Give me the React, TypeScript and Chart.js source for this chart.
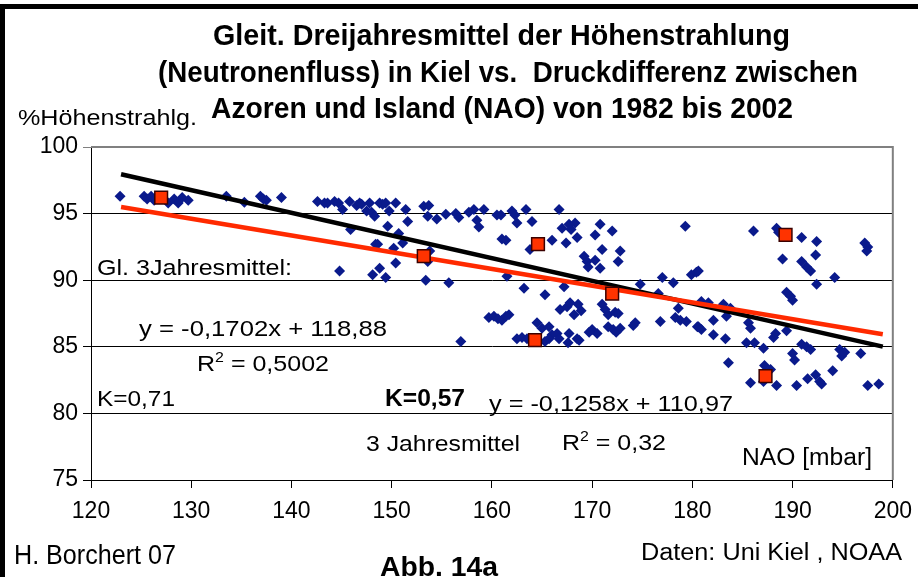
import React, { useEffect, useRef } from 'react';
import { Chart, registerables } from 'chart.js';

Chart.register(...registerables);

// NAO [mbar] vs. % Höhenstrahlung – monthly values (blue diamonds)
const bluePoints: [number, number][] = [
  [122.9, 96.3], [125.3, 96.3], [125.6, 96.1], [126.0, 96.3], [126.3, 96.0], [127.7, 95.8], [128.3, 96.1],
  [128.7, 95.8], [129.1, 96.2], [129.7, 96.0], [133.5, 96.3], [135.3, 95.85], [136.9, 96.3], [137.2, 96.1],
  [137.5, 96.0], [139.0, 96.2],
  [142.6, 95.9], [143.3, 95.8], [143.6, 95.8], [144.3, 95.9], [144.7, 95.8], [145.1, 95.3], [145.8, 95.9],
  [146.5, 95.6], [146.8, 95.8], [147.0, 95.7], [147.5, 95.2], [147.8, 95.8], [148.0, 95.1], [148.3, 94.8],
  [148.8, 95.8], [149.1, 95.7], [149.4, 95.8], [149.75, 95.2], [150.4, 95.8], [151.4, 95.3], [151.6, 94.4],
  [145.9, 93.8], [149.6, 94.05], [150.7, 93.5], [151.1, 92.8], [148.6, 92.7], [148.4, 92.7], [150.2, 92.4],
  [150.4, 91.3], [148.8, 90.9], [148.1, 90.4], [149.4, 90.2], [144.8, 90.7], [153.4, 90.0], [155.7, 89.8],
  [153.6, 91.4], [153.8, 92.2], [153.2, 95.55], [153.7, 95.6], [153.6, 94.8], [154.5, 94.6], [155.4, 94.95],
  [156.4, 95.0], [156.7, 94.7], [157.7, 95.1], [158.2, 95.3], [158.5, 94.5], [158.7, 94.0], [159.2, 95.3],
  [160.5, 94.9], [161.0, 93.1], [156.9, 85.4], [159.7, 87.2], [160.2, 87.3], [160.6, 87.1], [161.0, 87.0],
  [161.7, 87.4],
  [160.9, 94.9], [162.0, 95.2], [162.3, 94.9], [162.5, 94.3], [163.4, 95.3], [164.0, 94.4], [161.4, 93.0],
  [163.8, 92.3], [166.0, 93.0], [166.7, 95.3], [167.0, 93.9], [167.4, 92.8], [167.7, 94.2], [167.9, 93.8],
  [168.3, 94.3], [168.5, 93.2], [169.2, 91.8], [169.5, 91.4], [169.6, 91.0], [170.3, 91.5], [170.3, 93.4],
  [170.8, 94.2], [171.0, 92.3], [170.8, 90.9], [172.0, 93.7], [172.8, 92.2], [172.6, 91.4], [179.3, 94.05],
  [179.9, 90.4], [180.4, 90.6], [161.5, 90.3], [163.2, 89.4], [165.3, 88.9], [167.2, 89.5], [174.8, 89.7],
  [177.0, 90.2], [178.1, 89.8], [176.6, 89.0], [178.6, 87.9],
  [161.4, 87.3], [164.5, 86.8], [165.0, 86.4], [165.7, 86.5], [166.0, 85.9], [166.5, 86.0], [166.8, 87.8],
  [167.5, 88.0], [167.8, 88.3], [168.2, 87.4], [168.6, 88.2], [168.9, 87.7], [167.7, 86.0], [168.5, 85.6],
  [167.6, 85.3], [170.0, 86.3], [170.5, 86.0], [171.0, 88.2], [171.3, 87.8], [171.6, 87.4], [172.3, 87.6],
  [172.6, 87.5], [171.6, 86.5], [172.1, 86.3], [172.4, 86.1], [172.8, 86.4], [174.1, 86.6], [174.3, 86.8],
  [176.8, 86.9], [178.3, 87.2], [178.8, 87.0], [179.4, 86.9], [180.6, 86.5], [162.5, 85.6], [163.0, 85.7],
  [163.5, 85.6], [165.3, 85.4], [165.7, 85.6], [166.7, 85.6], [168.7, 85.5], [169.7, 86.1],
  [186.1, 93.7], [188.4, 93.9], [188.6, 93.6], [190.9, 93.2], [192.4, 92.9], [197.2, 92.8], [197.5, 92.5],
  [197.4, 92.2], [189.0, 91.6], [190.9, 91.4], [191.4, 91.0], [191.8, 90.7], [192.3, 91.9], [194.2, 90.2],
  [192.4, 89.7], [189.4, 89.1], [189.8, 88.8], [190.0, 88.5], [180.6, 90.7], [180.9, 88.4], [181.6, 88.3],
  [183.1, 88.2], [183.8, 87.9], [182.1, 87.0], [183.4, 87.3], [180.5, 86.5], [180.9, 86.3], [182.1, 85.9],
  [183.3, 85.6], [185.6, 86.8], [185.8, 86.4], [185.4, 85.3], [186.2, 85.3], [187.1, 84.9], [188.1, 85.7],
  [188.3, 86.0], [189.4, 86.2], [183.6, 83.8], [187.2, 83.6], [187.8, 83.3], [185.8, 82.3], [187.1, 82.4],
  [188.4, 82.1], [190.0, 84.5], [190.2, 84.0], [190.9, 85.2], [191.4, 85.0], [191.8, 84.8], [190.4, 82.1],
  [191.5, 82.6], [192.3, 82.9], [192.7, 82.4], [192.9, 82.2], [194.0, 83.2], [194.7, 84.8], [194.9, 84.3],
  [195.2, 84.6], [196.8, 84.5], [197.5, 82.1], [198.6, 82.2],
];

// gleitende Dreijahresmittel (red squares)
const redX = [127.0, 153.2, 164.6, 164.3, 172.0, 187.3, 189.3];
const redY = [96.2, 91.8, 92.7, 85.5, 89.0, 82.8, 93.4];

// trend lines (endpoints from the printed regression equations)
const trendX = [123, 199];
const blackTrendY = [97.95, 85.01];
const redTrendY = [95.5, 85.94];

const xMin = 120, xMax = 200, xStep = 10;
const yMin = 75, yMax = 100, yStep = 5;

const FONT = "'Liberation Sans', Arial, sans-serif";

function fitText(ctx: CanvasRenderingContext2D, text: string, x: number, y: number, font: string, width: number) {
  ctx.save();
  ctx.font = font;
  const w = ctx.measureText(text).width;
  ctx.translate(x, y);
  ctx.scale(width / w, 1);
  ctx.textAlign = 'left';
  ctx.textBaseline = 'alphabetic';
  ctx.fillText(text, 0, 0);
  ctx.restore();
}

function fitR2(ctx: CanvasRenderingContext2D, rest: string, x: number, y: number, size: number, width: number) {
  ctx.save();
  const big = `${size}px ${FONT}`;
  const small = `${Math.round(size * 0.62)}px ${FONT}`;
  ctx.font = big;
  const wR = ctx.measureText('R').width;
  const wRest = ctx.measureText(rest).width;
  ctx.font = small;
  const w2 = ctx.measureText('2').width;
  const sx = width / (wR + w2 + wRest);
  ctx.translate(x, y);
  ctx.scale(sx, 1);
  ctx.textAlign = 'left';
  ctx.textBaseline = 'alphabetic';
  ctx.font = big;
  ctx.fillText('R', 0, 0);
  ctx.font = small;
  ctx.fillText('2', wR, -size * 0.42);
  ctx.font = big;
  ctx.fillText(rest, wR + w2, 0);
  ctx.restore();
}

const decorPlugin = {
  id: 'decor',
  beforeDraw(chart: any) {
    const ctx = chart.ctx as CanvasRenderingContext2D;
    ctx.save();
    ctx.fillStyle = '#ffffff';
    ctx.fillRect(0, 0, chart.width, chart.height);
    ctx.restore();
  },
  afterDatasetsDraw(chart: any) {
    const ctx = chart.ctx as CanvasRenderingContext2D;
    const a = chart.chartArea;
    ctx.save();
    ctx.strokeStyle = '#808080';
    ctx.lineWidth = 2;
    ctx.beginPath();
    ctx.moveTo(a.left, a.top);
    ctx.lineTo(a.right, a.top);
    ctx.lineTo(a.right, a.bottom);
    ctx.stroke();
    ctx.restore();
  },
  afterDraw(chart: any) {
    const ctx = chart.ctx as CanvasRenderingContext2D;
    ctx.save();
    // outer frame
    ctx.fillStyle = '#000';
    ctx.fillRect(0, 4, 5, 573);
    ctx.fillRect(0, 4, 918, 5);

    ctx.fillStyle = '#000';
    const bold = (s: number) => `bold ${s}px ${FONT}`;
    const reg = (s: number) => `${s}px ${FONT}`;
    fitText(ctx, 'Gleit. Dreijahresmittel der Höhenstrahlung', 213, 45, bold(30), 577);
    fitText(ctx, '(Neutronenfluss) in Kiel vs.  Druckdifferenz zwischen', 158, 82, bold(30), 700);
    fitText(ctx, 'Azoren und Island (NAO) von 1982 bis 2002', 211, 118, bold(30), 582);
    fitText(ctx, '%Höhenstrahlg.', 18, 125, reg(22), 179);

    fitText(ctx, 'Gl. 3Jahresmittel:', 97, 275, reg(22), 195);
    fitText(ctx, 'y = -0,1702x + 118,88', 139, 336, reg(22), 248);
    fitR2(ctx, ' = 0,5002', 197, 371, 22, 132);
    fitText(ctx, 'K=0,71', 97, 406, reg(22), 78);
    fitText(ctx, 'K=0,57', 385, 406, bold(23), 80);
    fitText(ctx, 'y = -0,1258x + 110,97', 489, 411, reg(22), 244);
    fitText(ctx, '3 Jahresmittel', 366, 451, reg(22), 154);
    fitR2(ctx, ' = 0,32', 562, 450, 22, 104);
    fitText(ctx, 'NAO [mbar]', 742, 465, reg(23), 130);

    fitText(ctx, 'H. Borchert 07', 14, 564, reg(27), 162);
    fitText(ctx, 'Abb. 14a', 380, 576, bold(27), 118);
    fitText(ctx, 'Daten: Uni Kiel , NOAA', 641, 560, reg(23), 261);
    ctx.restore();
  },
};

export default function App() {
  const ref = useRef<HTMLCanvasElement | null>(null);

  useEffect(() => {
    document.body.style.margin = '0';
    const canvas = ref.current;
    if (!canvas) return;
    const chart = new Chart(canvas, {
      type: 'scatter',
      data: {
        datasets: [
          {
            label: '3 Jahresmittel',
            data: redX.map((x, i) => ({ x, y: redY[i] })),
            pointStyle: 'rect',
            pointRadius: 9,
            backgroundColor: '#ff3300',
            borderColor: '#3a0000',
            borderWidth: 1.5,
            showLine: false,
          },
          {
            label: 'Trend 3 Jahresmittel',
            type: 'line',
            data: trendX.map((x, i) => ({ x, y: redTrendY[i] })),
            borderColor: '#ff2a00',
            borderWidth: 4.5,
            pointRadius: 0,
            fill: false,
          },
          {
            label: 'Trend Gl. 3Jahresmittel',
            type: 'line',
            data: trendX.map((x, i) => ({ x, y: blackTrendY[i] })),
            borderColor: '#000000',
            borderWidth: 4.5,
            pointRadius: 0,
            fill: false,
          },
          {
            label: 'Monatswerte',
            data: bluePoints.map(([x, y]) => ({ x, y })),
            pointStyle: 'rectRot',
            pointRadius: 5.5,
            backgroundColor: '#0a1a8c',
            borderColor: '#0a1a8c',
            borderWidth: 0,
            showLine: false,
          },
        ],
      },
      options: {
        responsive: false,
        animation: false,
        events: [],
        layout: { padding: { left: 0, top: 147, right: 27, bottom: 0 } },
        plugins: {
          legend: { display: false },
          title: { display: false },
          tooltip: { enabled: false },
        },
        scales: {
          x: {
            type: 'linear',
            min: xMin,
            max: xMax,
            afterFit: (s: any) => { s.height = 97; },
            ticks: {
              stepSize: xStep,
              color: '#000',
              font: { family: FONT, size: 23 },
              padding: 10,
            },
            grid: {
              drawOnChartArea: false,
              drawTicks: true,
              tickLength: 8,
              color: '#000',
            },
            border: { color: '#000', width: 1 },
          },
          y: {
            type: 'linear',
            min: yMin,
            max: yMax,
            afterFit: (s: any) => { s.width = 91; },
            ticks: {
              stepSize: yStep,
              color: '#000',
              font: { family: FONT, size: 23 },
              padding: 5,
            },
            grid: {
              drawTicks: true,
              tickLength: 8,
              color: (c: any) => (c.tick && c.tick.value === yMax ? '#808080' : '#000'),
              lineWidth: 1,
            },
            border: { color: '#000', width: 1 },
          },
        },
      },
      plugins: [decorPlugin],
    });
    return () => chart.destroy();
  }, []);

  return (
    <div style={{ width: 922, height: 577, background: '#fff' }}>
      <canvas ref={ref} width={922} height={577} style={{ display: 'block' }} />
    </div>
  );
}
